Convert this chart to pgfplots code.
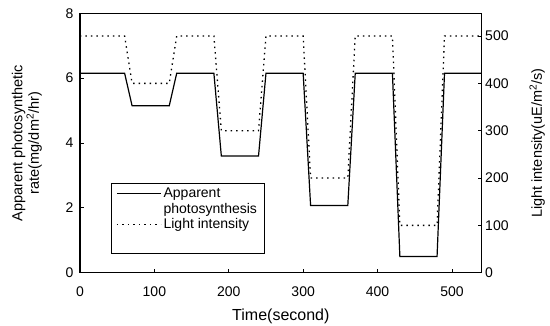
\documentclass[border=0pt]{standalone}
\usepackage{fontspec}
\setmainfont{Liberation Sans}
\usepackage{pgfplots}
\pgfplotsset{compat=1.18}
\begin{document}
\begin{tikzpicture}
\pgfplotsset{
 every axis/.append style={scale only axis, width=401.7pt, height=259.4pt, xmin=0, xmax=540,
   /pgf/number format/assume math mode=true,
   tick label style={font=\fontsize{14}{16}\selectfont},
   label style={font=\fontsize{14.5}{16.5}\selectfont},
   tick align=inside, major tick length=4pt, axis line style={line width=1.1pt},
   tick style={line width=0.8pt, black}},
}
\begin{axis}[
 ymin=0, ymax=8, ytick={0,2,4,6,8}, xtick={0,100,...,500},
 xtick pos=bottom, ytick pos=left,
 xticklabel style={yshift=-10pt},
 yticklabel style={xshift=-3pt},
 xlabel={Time(second)}, ylabel={Apparent photosynthetic\\rate(mg/dm\textsuperscript{2}/hr)},
 ylabel style={align=center, at={(axis description cs:-0.132,0.5)}, anchor=center},
 xlabel style={at={(axis description cs:0.5,-0.170)}, anchor=center, font=\fontsize{16}{18}\selectfont},
 legend style={at={(rel axis cs:0.0772,0.347)}, anchor=north west, draw=black, line width=0.6pt,
   font=\fontsize{14}{16}\selectfont, row sep=0pt, inner xsep=5pt, inner ysep=3pt},
 legend cell align=left,
 legend image code/.code={\draw[#1] (0pt,0pt) -- (44pt,0pt);},
]
\addplot[black, line width=1.2pt] coordinates {
(0,6.15) (60,6.15) (70,5.15) (120,5.15) (130,6.15) (180,6.15) (190,3.6) (240,3.6) (250,6.15)
(300,6.15) (310,2.07) (360,2.07) (370,6.15) (420,6.15) (430,0.5) (480,0.5) (490,6.15) (540,6.15)};
\addlegendentry{Apparent}
\addlegendimage{empty legend}
\addlegendentry{photosynthesis}
\addlegendimage{black, line width=1.3pt, dash pattern=on 1.5pt off 4pt}
\addlegendentry{Light intensity}
\addlegendimage{empty legend}
\addlegendentry{\rule{0pt}{12pt}}
\end{axis}
\begin{axis}[
 ymin=0, ymax=548, ytick={0,100,...,500},
 axis y line*=right, axis x line=none,
 ylabel={Light intensity(uE/m\textsuperscript{2}/s)},
 ylabel style={at={(axis description cs:1.138,0.5)}, anchor=center},
]
\addplot[black, line width=1.3pt, dash pattern=on 1.5pt off 4pt] coordinates {
(0,500) (60,500) (70,400) (120,400) (130,500) (180,500) (190,300) (240,300) (250,500)
(300,500) (310,200) (360,200) (370,500) (420,500) (430,100) (480,100) (490,500) (540,500)};
\end{axis}
\pgfresetboundingbox
\path (-80pt,-53.3pt) rectangle (470pt,272.7pt);
\end{tikzpicture}
\end{document}
